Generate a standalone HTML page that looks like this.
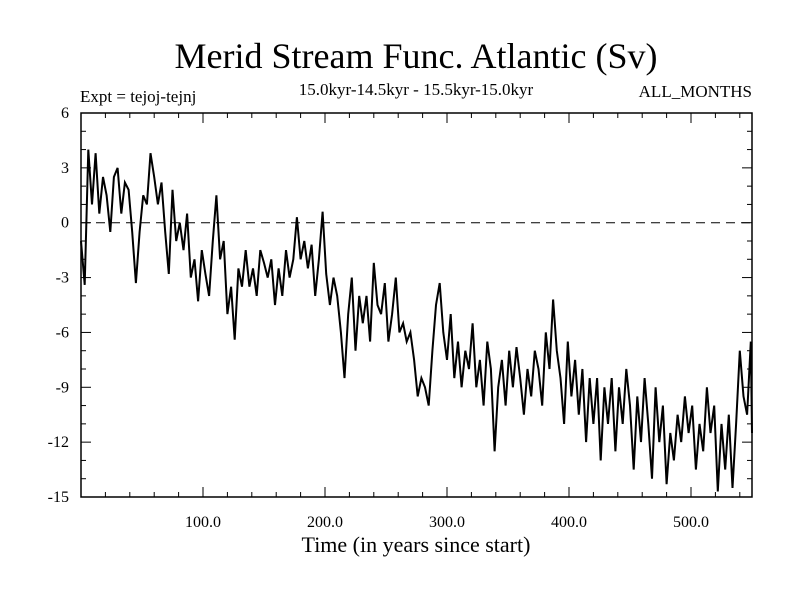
<!DOCTYPE html>
<html><head><meta charset="utf-8"><style>
body{margin:0;background:#fff}
svg text{font-family:"Liberation Serif",serif;fill:#000}
</style></head><body>
<svg id="chart" width="800" height="600" xmlns="http://www.w3.org/2000/svg">
<text x="416" y="68" font-size="36" text-anchor="middle">Merid Stream Func. Atlantic (Sv)</text>
<text x="80" y="102" font-size="17">Expt = tejoj-tejnj</text>
<text x="416" y="95" font-size="17" text-anchor="middle">15.0kyr-14.5kyr - 15.5kyr-15.0kyr</text>
<text x="752" y="97" font-size="17" text-anchor="end">ALL_MONTHS</text>
<text x="416" y="552" font-size="22" text-anchor="middle">Time (in years since start)</text>
<g id="axes"></g>
<path id="series" fill="none" stroke="#000" stroke-width="2"/>
</svg>
<script>
const years=[0,3,6,9,12,15,18,21,24,27,30,33,36,39,42,45,48,51,54,57,60,63,66,69,72,75,78,81,84,87,90,93,96,99,102,105,108,111,114,117,120,123,126,129,132,135,138,141,144,147,150,153,156,159,162,165,168,171,174,177,180,183,186,189,192,195,198,201,204,207,210,213,216,219,222,225,228,231,234,237,240,243,246,249,252,255,258,261,264,267,270,273,276,279,282,285,288,291,294,297,300,303,306,309,312,315,318,321,324,327,330,333,336,339,342,345,348,351,354,357,360,363,366,369,372,375,378,381,384,387,390,393,396,399,402,405,408,411,414,417,420,423,426,429,432,435,438,441,444,447,450,453,456,459,462,465,468,471,474,477,480,483,486,489,492,495,498,501,504,507,510,513,516,519,522,525,528,531,534,537,540,543,546,549,550];
const values=[-1,-3.4,4,1,3.8,0.5,2.5,1.5,-0.5,2.5,3,0.5,2.2,1.8,-0.5,-3.3,-0.5,1.5,1,3.8,2.5,1,2.2,-0.5,-2.8,1.8,-1,0,-1.5,0.5,-3,-2,-4.3,-1.5,-2.8,-4,-1,1.5,-2,-1,-5,-3.5,-6.4,-2.5,-3.5,-1.5,-3.5,-2.5,-4,-1.5,-2.2,-3,-2,-4.5,-2.5,-4,-1.5,-3,-2,0.3,-2,-1,-2.5,-1.2,-4,-2,0.6,-2.8,-4.5,-3,-4,-6,-8.5,-5,-3,-7,-4,-5.5,-4,-6.5,-2.2,-4.5,-5,-3.3,-6.5,-5,-3,-6,-5.5,-6.5,-6,-7.5,-9.5,-8.5,-9,-10,-7,-4.5,-3.3,-6,-7.5,-5,-8.5,-6.5,-9,-7,-8,-5.5,-9,-7.5,-10,-6.5,-8,-12.5,-9,-7.5,-10,-7,-9,-6.8,-8.5,-10.5,-8,-9.5,-7,-8,-10,-6,-8,-4.2,-7,-8.5,-11,-6.5,-9.5,-7.5,-10.5,-8,-12,-8.5,-11,-8.5,-13,-9,-11,-8.5,-12.5,-9,-11,-8,-10,-13.5,-9.5,-12,-8.5,-11,-14,-9,-12,-10,-14.3,-11.5,-13,-10.5,-12,-9.5,-11.5,-10,-13.5,-11,-12.5,-9,-11.5,-10,-14.7,-11,-13.5,-10.5,-14.5,-11,-7,-9.5,-10.5,-6.5,-11.5];
const xTickVals=[100,200,300,400,500];
const xTickLabels=["100.0","200.0","300.0","400.0","500.0"];
const yTickVals=[6,3,0,-3,-6,-9,-12,-15];
const yTickLabels=["6","3","0","-3","-6","-9","-12","-15"];
const L=81,R=752,T=113,B=497,XMIN=0,XMAX=550,YMIN=-15,YMAX=6;
function sx(v){return L+(v-XMIN)/(XMAX-XMIN)*(R-L);}
function sy(v){return B-(v-YMIN)/(YMAX-YMIN)*(B-T);}
const NS="http://www.w3.org/2000/svg";
const ax=document.getElementById('axes');
function mk(tag,attrs,parent){const e=document.createElementNS(NS,tag);for(const k in attrs)e.setAttribute(k,attrs[k]);(parent||ax).appendChild(e);return e;}
const frame=mk('rect',{x:L,y:T,width:R-L,height:B-T,fill:'none',stroke:'#000','stroke-width':1.5});


const zl=mk('line',{x1:L,x2:R,y1:sy(0),y2:sy(0),stroke:'#000','stroke-width':1,'stroke-dasharray':'9,6'});


for(let v=20;v<XMAX;v+=20){const big=v%100===0;const l=big?10:5;
mk('line',{x1:sx(v),x2:sx(v),y1:B,y2:B-l,stroke:'#000'});mk('line',{x1:sx(v),x2:sx(v),y1:T,y2:T+l,stroke:'#000'});}
for(let v=YMIN+1;v<YMAX;v+=1){const big=v%3===0;const l=big?10:5;
mk('line',{x1:L,x2:L+l,y1:sy(v),y2:sy(v),stroke:'#000'});mk('line',{x1:R,x2:R-l,y1:sy(v),y2:sy(v),stroke:'#000'});}
xTickVals.forEach((v,i)=>{const t=mk('text',{x:sx(v),y:B+30,'font-size':16,'text-anchor':'middle'});t.textContent=xTickLabels[i];

});
yTickVals.forEach((v,i)=>{const t=mk('text',{x:L-12,y:sy(v)+5,'font-size':16,'text-anchor':'end'});t.textContent=yTickLabels[i];

});
document.getElementById('series').setAttribute('d',years.map((y,i)=>(i?'L':'M')+sx(y).toFixed(1)+','+sy(values[i]).toFixed(1)).join(''));
</script>
</body></html>
